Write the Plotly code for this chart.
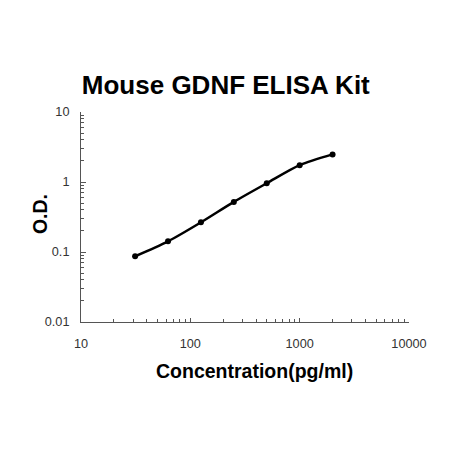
import plotly.graph_objects as go

# standard curve points
concentration = [31.25, 62.5, 125, 250, 500, 1000, 2000]
od = [0.087, 0.142, 0.265, 0.52, 0.96, 1.74, 2.48]

x_ticks = [10, 100, 1000, 10000]
y_ticks = [0.01, 0.1, 1, 10]

fig = go.Figure()

fig.add_trace(go.Scatter(
    x=concentration,
    y=od,
    mode="lines+markers",
    line=dict(color="black", width=2.5, shape="spline", smoothing=0.8),
    marker=dict(color="black", size=6),
    showlegend=False,
))

axis_font = dict(family="Liberation Sans, Arial", size=12.7, color="#333333")
label_font = dict(family="Liberation Sans, Arial", size=19.5, color="black")

fig.update_layout(
    width=450,
    height=450,
    margin=dict(l=73, r=49, t=104, b=136),
    paper_bgcolor="white",
    plot_bgcolor="white",
    title=dict(
        text="<b>Mouse GDNF ELISA Kit</b>",
        x=0.484, xanchor="center",
        y=0.829, yanchor="middle",
        font=dict(family="Liberation Sans, Arial", size=26, color="black"),
    ),
)

# axis titles placed as annotations so they sit where the original has them
fig.add_annotation(text="<b>Concentration(pg/ml)</b>", xref="paper", yref="paper",
                   x=0.53, y=-0.233, xanchor="center", yanchor="middle",
                   showarrow=False, font=label_font)
fig.add_annotation(text="<b>O.D.</b>", xref="paper", yref="paper",
                   x=-0.125, y=0.514, xanchor="center", yanchor="middle",
                   textangle=-90, showarrow=False, font=label_font)

fig.update_xaxes(
    type="log",
    range=[1, 4],
    tickvals=x_ticks,
    ticktext=[str(v) for v in x_ticks],
    ticks="inside",
    ticklen=4,
    tickcolor="#555555",
    showline=True,
    linecolor="#555555",
    linewidth=1,
    showgrid=False,
    zeroline=False,
    tickfont=axis_font,
    ticklabelstandoff=10,
    minor=dict(ticks="inside", ticklen=3, tickcolor="#555555", dtick="D1", showgrid=False),
)

fig.update_yaxes(
    type="log",
    range=[-2, 1],
    tickvals=y_ticks,
    ticktext=["0.01", "0.1", "1", "10"],
    ticks="inside",
    ticklen=5,
    tickcolor="#555555",
    showline=True,
    linecolor="#555555",
    linewidth=1,
    showgrid=False,
    zeroline=False,
    tickfont=axis_font,
    ticklabelstandoff=8,
    minor=dict(ticks="inside", ticklen=3, tickcolor="#555555", dtick="D1", showgrid=False),
)

fig.write_html("out.html")
